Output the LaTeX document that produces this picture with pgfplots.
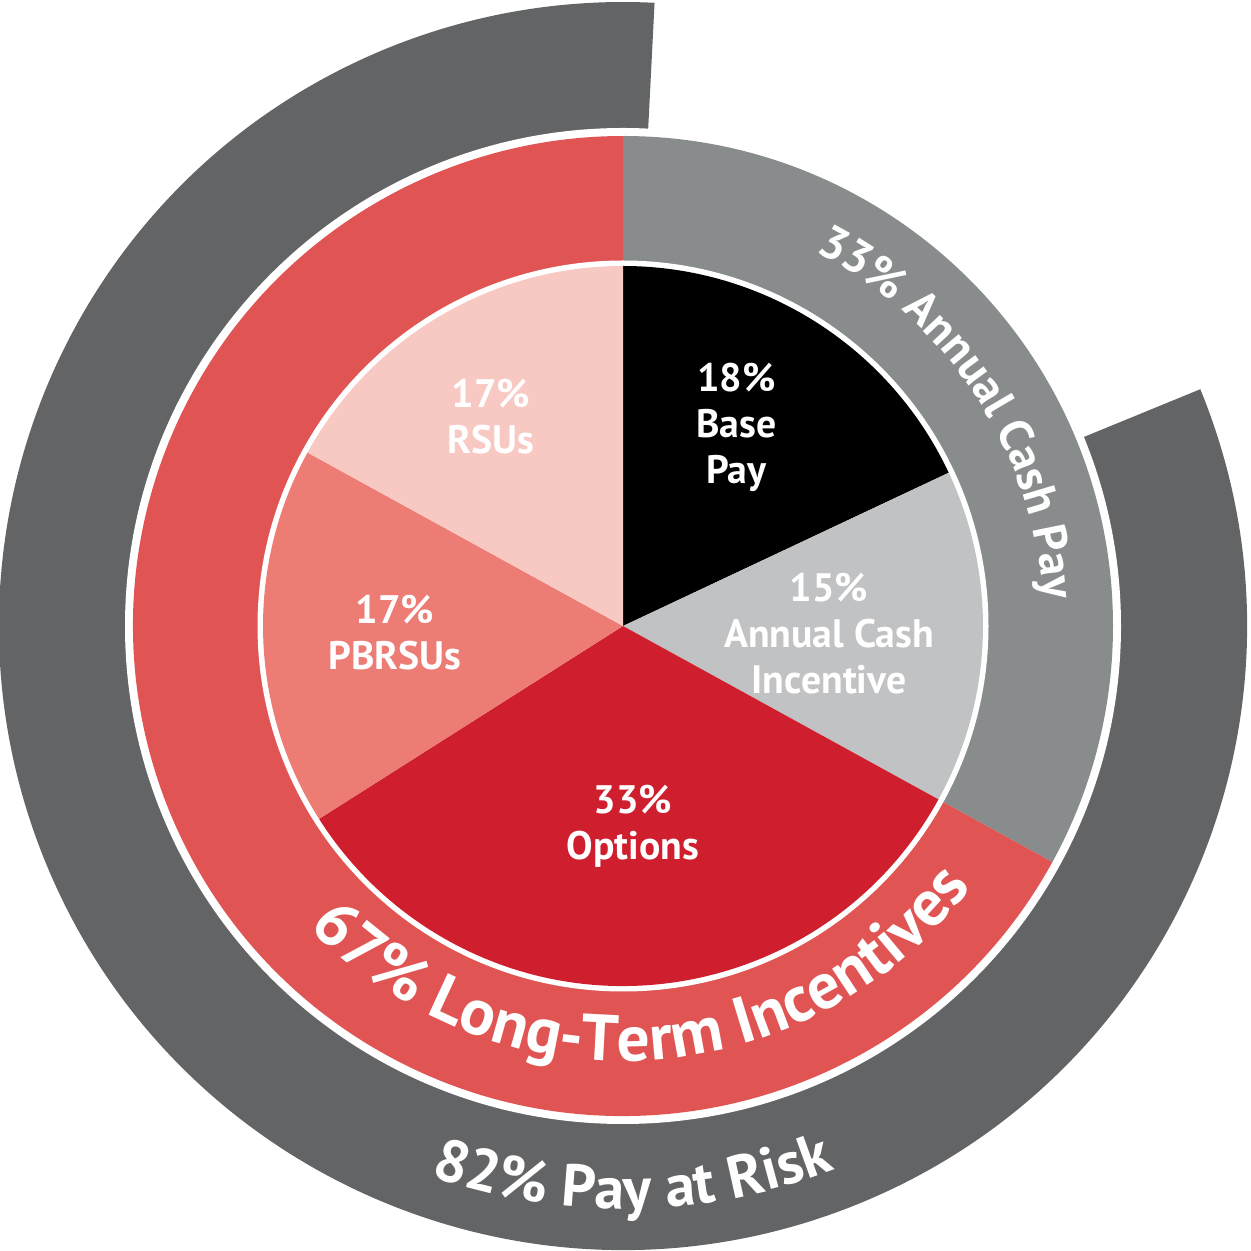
\documentclass[border=0pt]{standalone}
\usepackage{pgfplots}
\pgfplotsset{compat=1.18}
\usepackage{fontspec}
\setmainfont{PT Sans}
\usetikzlibrary{decorations.text}
\definecolor{cDark}{HTML}{636466}
\definecolor{cGray}{HTML}{898C8D}
\definecolor{cRing}{HTML}{E05553}
\definecolor{cBase}{HTML}{000000}
\definecolor{cCash}{HTML}{C1C2C4}
\definecolor{cOpt}{HTML}{CF1F2F}
\definecolor{cPB}{HTML}{EC7C74}
\definecolor{cRSU}{HTML}{F8C9C3}
% Shares in percent (1% = 3.6 degrees):
% inner pie: Base Pay 18, Annual Cash Incentive 15, Options 33, PBRSUs 17, RSUs 17
% middle ring: Annual Cash Pay 33, Long-Term Incentives 67
% outer ring: Pay at Risk 82
\newcommand{\inner}{\fontsize{11.3}{13.1}\selectfont\bfseries}
% sector from angle #2 to angle #3 (clockwise), radius #4, colour #1
\newcommand{\sector}[4]{%
  \addplot[fill=#1, draw=none] coordinates {(0,0)} -- (axis cs:{#4*cos(#2)},{#4*sin(#2)})
    arc[start angle={#2}, end angle={#3}, radius=#4] -- cycle;}
\begin{document}
\begin{tikzpicture}
\begin{axis}[x=1cm, y=1cm, xmin=-6.23, xmax=6.28, ymin=-6.25, ymax=6.26,
  hide axis, clip=false]
% outer ring: 82% pay at risk
\sector{cDark}{22.3}{22.3-82*3.6}{6.24}
\sector{white}{0}{-360}{4.98}
% middle ring: 33% annual cash pay, 67% long-term incentives
\sector{cGray}{90}{90-33*3.6}{4.90}
\sector{cRing}{90-33*3.6}{90-100*3.6}{4.90}
\sector{white}{0}{-360}{3.655}
% inner pie
\sector{cBase}{90}{90-18*3.6}{3.60}
\sector{cCash}{90-18*3.6}{90-33*3.6}{3.60}
\sector{cOpt}{90-33*3.6}{90-66*3.6}{3.60}
\sector{cPB}{90-66*3.6}{90-83*3.6}{3.60}
\sector{cRSU}{90-83*3.6}{90-100*3.6}{3.60}
% inner labels
\node[font=\inner, text=white, align=center] at (axis cs:1.135,1.985) {18\%\\Base\\Pay};
\node[font=\inner, text=white, align=center] at (axis cs:2.06,-0.08) {15\%\\Annual Cash\\Incentive};
\node[font=\inner, text=white, align=center] at (axis cs:0.10,-2.00) {33\%\\Options};
\node[font=\inner, text=white, align=center] at (axis cs:-2.28,-0.065) {17\%\\PBRSUs};
\node[font=\inner, text=white, align=center] at (axis cs:-1.32,2.095) {17\%\\RSUs};
% curved labels
\path[decorate, decoration={text along path, text align=center,
  text={|\fontsize{13.3}{16}\selectfont\bfseries\color{white}|33{\%} Annual Cash Pay}}]
  (axis cs:{4.21*cos(93.2)},{4.21*sin(93.2)}) arc[start angle=93.2, end angle=-26.8, radius=4.21];
\path[decorate, decoration={text along path, text align=center,
  text={|\fontsize{18.6}{21}\selectfont\bfseries\color{white}|67{\%} Long-Term Incentives}}]
  (axis cs:{4.35*cos(193.5)},{4.35*sin(193.5)}) arc[start angle=193.5, end angle=353.5, radius=4.35];
\path[decorate, decoration={text along path, text align=center,
  text={|\fontsize{17.0}{19}\selectfont\bfseries\color{white}|82{\%} Pay at Risk}}]
  (axis cs:{5.83*cos(211)},{5.83*sin(211)}) arc[start angle=211, end angle=331, radius=5.83];
\end{axis}
\pgfresetboundingbox
\path[use as bounding box] (current axis.south west) rectangle (current axis.north east);
\end{tikzpicture}
\end{document}
